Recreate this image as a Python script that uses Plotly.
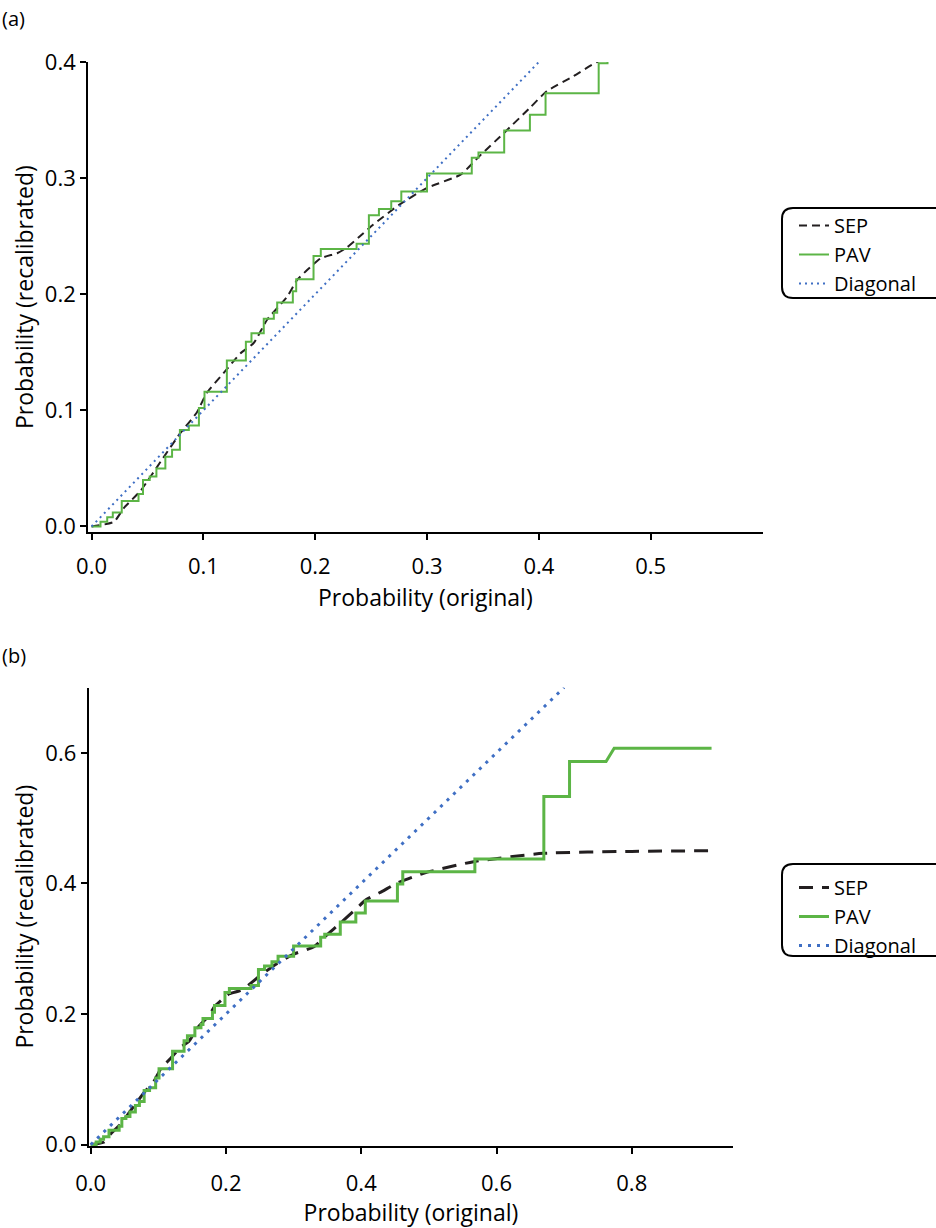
import plotly.graph_objects as go

# ---------------- data ----------------
# SEP recalibration curve (original prob -> recalibrated prob)
sep_x = [0.000, 0.020, 0.029, 0.044, 0.064, 0.079, 0.094, 0.103, 0.118, 0.133, 0.145,
         0.157, 0.175, 0.184, 0.193, 0.205, 0.220, 0.228, 0.240, 0.252, 0.275, 0.300,
         0.330, 0.348, 0.370, 0.392, 0.407, 0.431, 0.452, 0.492, 0.566, 0.669, 0.800, 0.918]
sep_y = [0.000, 0.004, 0.016, 0.031, 0.059, 0.080, 0.098, 0.115, 0.132, 0.149, 0.158,
         0.178, 0.198, 0.2125, 0.221, 0.231, 0.2355, 0.240, 0.250, 0.260, 0.277, 0.2916,
         0.303, 0.320, 0.340, 0.3605, 0.3748, 0.3878, 0.400, 0.4155, 0.4333, 0.446, 0.449, 0.450]

# PAV (isotonic) step function: start of each step and its level
pav_break_x = [0.000, 0.008, 0.014, 0.019, 0.027, 0.042, 0.046, 0.052, 0.058, 0.066, 0.072,
               0.079, 0.087, 0.096, 0.101, 0.121, 0.138, 0.143, 0.154, 0.163, 0.166, 0.180,
               0.183, 0.1985, 0.205, 0.237, 0.248, 0.257, 0.268, 0.277, 0.300, 0.340, 0.346,
               0.369, 0.392, 0.406, 0.4535, 0.4614, 0.568, 0.670, 0.708]
pav_levels = [0.000, 0.004, 0.008, 0.012, 0.022, 0.028, 0.040, 0.043, 0.050, 0.060, 0.066,
              0.083, 0.087, 0.102, 0.116, 0.143, 0.159, 0.1665, 0.179, 0.184, 0.193, 0.2025,
              0.213, 0.233, 0.239, 0.2435, 0.268, 0.2735, 0.280, 0.2885, 0.304, 0.3175, 0.322,
              0.341, 0.3545, 0.373, 0.399, 0.418, 0.4375, 0.533, 0.5865]
pav_tail_x = [0.762, 0.774, 0.918]
pav_tail_y = [0.5865, 0.607, 0.607]

diag_x = [0.0, 0.7]
diag_y = [0.0, 0.7]

series_names = ["SEP", "PAV", "Diagonal"]
ticks_a_x = [0.0, 0.1, 0.2, 0.3, 0.4, 0.5]
ticks_a_y = [0.0, 0.1, 0.2, 0.3, 0.4]
ticks_b_x = [0.0, 0.2, 0.4, 0.6, 0.8]
ticks_b_y = [0.0, 0.2, 0.4, 0.6]

# ---------------- build PAV vertices ----------------
pav_x, pav_y = [], []
for i, (bx, lv) in enumerate(zip(pav_break_x, pav_levels)):
    if i > 0:
        pav_x.append(bx)
        pav_y.append(pav_levels[i - 1])
    pav_x.append(bx)
    pav_y.append(lv)
pav_x += pav_tail_x
pav_y += pav_tail_y

# ---------------- style ----------------
W, H = 936, 1228
FONT = "Open Sans"
C_SEP = "#231f20"
C_PAV = "#5cb546"
C_DIAG = "#3f6fc4"

def px(x):
    return x / W

def py(y):
    return 1 - y / H

fig = go.Figure()

for panel, (xa, ya, lw, dash_sep, dash_diag, leg) in enumerate([
        ("x", "y", 2, "8px,5px", "2px,4px", "legend"),
        ("x2", "y2", 3, "14px,9px", "3px,6px", "legend2")]):
    fig.add_trace(go.Scatter(x=sep_x, y=sep_y, mode="lines", name=series_names[0],
                             line=dict(color=C_SEP, width=lw, dash=dash_sep,
                                       shape="spline", smoothing=0.5),
                             xaxis=xa, yaxis=ya, legend=leg))
    fig.add_trace(go.Scatter(x=pav_x, y=pav_y, mode="lines", name=series_names[1],
                             line=dict(color=C_PAV, width=lw),
                             xaxis=xa, yaxis=ya, legend=leg))
    fig.add_trace(go.Scatter(x=diag_x, y=diag_y, mode="lines", name=series_names[2],
                             line=dict(color=C_DIAG, width=lw, dash=dash_diag),
                             xaxis=xa, yaxis=ya, legend=leg))

axis_common = dict(showline=True, linecolor="black", linewidth=2, ticks="outside",
                   ticklen=6, tickwidth=2, tickcolor="black", showgrid=False,
                   zeroline=False, tickformat=".1f",
                   tickfont=dict(family=FONT, size=22, color="black"))
title_font = dict(family=FONT, size=23, color="black")
legend_font = dict(family=FONT, size=20, color="black")

fig.update_layout(
    width=W, height=H,
    margin=dict(l=0, r=0, t=0, b=0, autoexpand=False),
    paper_bgcolor="white", plot_bgcolor="white",
    font=dict(family=FONT, color="black"),
    xaxis=dict(axis_common, domain=[px(88.2), px(762.5)], range=[-0.003, 0.6],
               tickvals=ticks_a_x, anchor="y", ticklabelstandoff=7,
               title=dict(text="Probability (original)", font=title_font, standoff=11)),
    yaxis=dict(axis_common, domain=[py(532.3), py(62)], range=[-0.005, 0.4],
               tickvals=ticks_a_y, anchor="x",
               title=dict(text="Probability (recalibrated)", font=title_font, standoff=5)),
    xaxis2=dict(axis_common, domain=[px(88.7), px(733.2)], range=[-0.003, 0.95],
                tickvals=ticks_b_x, anchor="y2", ticklabelstandoff=11,
                title=dict(text="Probability (original)", font=title_font, standoff=5)),
    yaxis2=dict(axis_common, domain=[py(1145.9), py(687.5)], range=[-0.002, 0.7],
                tickvals=ticks_b_y, anchor="x2",
                title=dict(text="Probability (recalibrated)", font=title_font, standoff=5)),
    legend=dict(x=px(794), y=py(206), xanchor="left", yanchor="top",
                bgcolor="rgba(0,0,0,0)", borderwidth=0,
                font=legend_font, itemwidth=30, tracegroupgap=0),
    legend2=dict(x=px(794), y=py(868), xanchor="left", yanchor="top",
                 bgcolor="rgba(0,0,0,0)", borderwidth=0,
                 font=legend_font, itemwidth=30, tracegroupgap=0),
    showlegend=True,
)

def rounded_box(x0, y0, x1, y1, r=11):
    # pixel coords -> paper path with rounded corners
    p = lambda x, y: f"{px(x):.5f},{py(y):.5f}"
    return ("M " + p(x0 + r, y0) + " L " + p(x1, y0) + " L " + p(x1, y1) +
            " L " + p(x0 + r, y1) + " Q " + p(x0, y1) + " " + p(x0, y1 - r) +
            " L " + p(x0, y0 + r) + " Q " + p(x0, y0) + " " + p(x0 + r, y0) + " Z")

fig.update_layout(shapes=[
    dict(type="path", xref="paper", yref="paper", path=rounded_box(782, 208, 960, 298),
         line=dict(color="black", width=2), fillcolor="rgba(0,0,0,0)", layer="below"),
    dict(type="path", xref="paper", yref="paper", path=rounded_box(782, 864, 960, 956),
         line=dict(color="black", width=2), fillcolor="rgba(0,0,0,0)", layer="below"),
])

fig.add_annotation(text="(a)", xref="paper", yref="paper", x=0, y=py(18),
                   xanchor="left", yanchor="middle", showarrow=False,
                   font=dict(family=FONT, size=20, color="black"))
fig.add_annotation(text="(b)", xref="paper", yref="paper", x=0, y=py(655),
                   xanchor="left", yanchor="middle", showarrow=False,
                   font=dict(family=FONT, size=20, color="black"))

fig.write_html("out.html")
